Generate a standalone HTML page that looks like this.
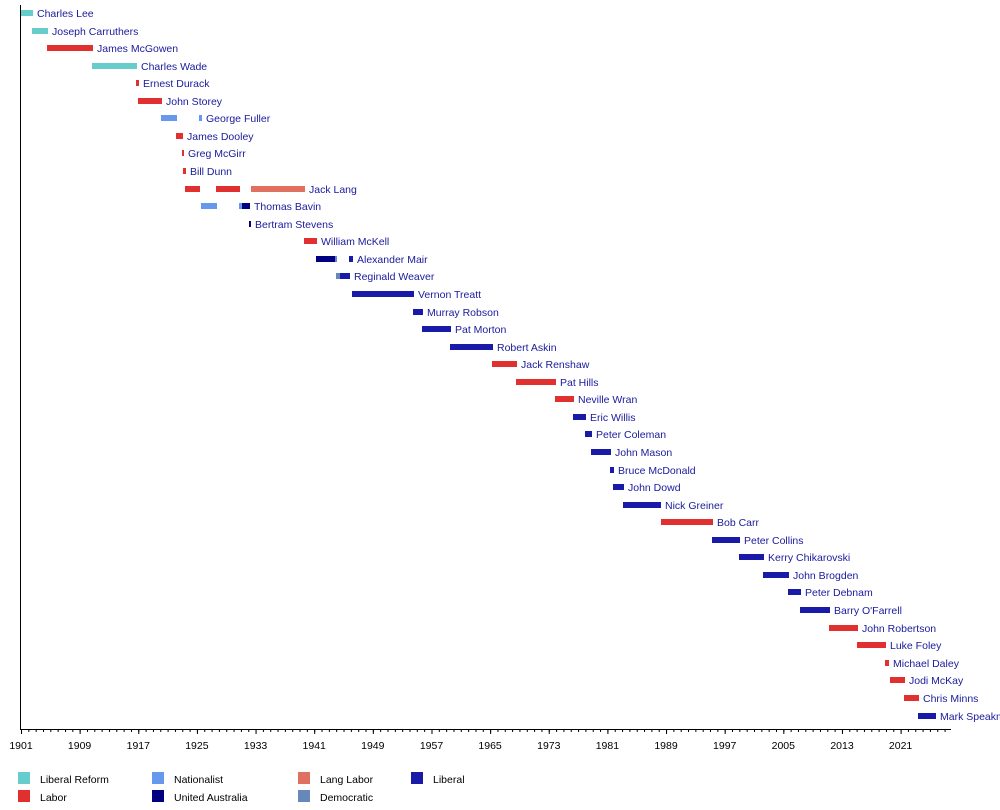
<!DOCTYPE html>
<html><head><meta charset="utf-8"><style>
html,body{margin:0;padding:0;background:#fff;width:1000px;height:810px;overflow:hidden}
svg text{font-family:"Liberation Sans",sans-serif;font-size:10.5px;fill:#1a1a9c}
</style></head><body>
<svg width="1000" height="810" xmlns="http://www.w3.org/2000/svg">
<defs>
<pattern id="minor" x="21" y="0" width="7.33" height="810" patternUnits="userSpaceOnUse"><rect x="0" y="729" width="1" height="3" fill="#000"/></pattern>
<pattern id="major" x="21" y="0" width="58.64" height="810" patternUnits="userSpaceOnUse"><rect x="0" y="729" width="1" height="5" fill="#000"/></pattern>
</defs>
<rect x="21" y="729" width="930" height="4" fill="url(#minor)"/>
<rect x="21" y="729" width="930" height="6" fill="url(#major)"/>
<rect x="20" y="5" width="1" height="725" fill="#000"/>
<rect x="20" y="729" width="931" height="1" fill="#000"/>
<g style="font-size:10px" text-anchor="middle">
<text x="21" y="749" style="fill:#000">1901</text><text x="79.6" y="749" style="fill:#000">1909</text><text x="138.3" y="749" style="fill:#000">1917</text><text x="196.9" y="749" style="fill:#000">1925</text><text x="255.6" y="749" style="fill:#000">1933</text><text x="314.2" y="749" style="fill:#000">1941</text><text x="372.8" y="749" style="fill:#000">1949</text><text x="431.5" y="749" style="fill:#000">1957</text><text x="490.1" y="749" style="fill:#000">1965</text><text x="548.8" y="749" style="fill:#000">1973</text><text x="607.4" y="749" style="fill:#000">1981</text><text x="666" y="749" style="fill:#000">1989</text><text x="724.7" y="749" style="fill:#000">1997</text><text x="783.3" y="749" style="fill:#000">2005</text><text x="842" y="749" style="fill:#000">2013</text><text x="900.6" y="749" style="fill:#000">2021</text>
</g>
<g>
<rect x="21" y="10" width="12" height="6" fill="#66cccc"/><text x="37" y="17">Charles Lee</text>
<rect x="32" y="28" width="16" height="6" fill="#66cccc"/><text x="52" y="35">Joseph Carruthers</text>
<rect x="47" y="45" width="46" height="6" fill="#e03030"/><text x="97" y="52">James McGowen</text>
<rect x="92" y="63" width="45" height="6" fill="#66cccc"/><text x="141" y="70">Charles Wade</text>
<rect x="136" y="80" width="3" height="6" fill="#e03030"/><text x="143" y="87">Ernest Durack</text>
<rect x="138" y="98" width="24" height="6" fill="#e03030"/><text x="166" y="105">John Storey</text>
<rect x="161" y="115" width="16" height="6" fill="#6699ee"/><rect x="199" y="115" width="3" height="6" fill="#6699ee"/><text x="206" y="122">George Fuller</text>
<rect x="176" y="133" width="7" height="6" fill="#e03030"/><text x="187" y="140">James Dooley</text>
<rect x="182" y="150" width="2" height="6" fill="#e03030"/><text x="188" y="157">Greg McGirr</text>
<rect x="183" y="168" width="3" height="6" fill="#e03030"/><text x="190" y="175">Bill Dunn</text>
<rect x="185" y="186" width="15" height="6" fill="#e03030"/><rect x="216" y="186" width="24" height="6" fill="#e03030"/><rect x="251" y="186" width="54" height="6" fill="#e07060"/><text x="309" y="193">Jack Lang</text>
<rect x="201" y="203" width="16" height="6" fill="#6699ee"/><rect x="239" y="203" width="3" height="6" fill="#6699ee"/><rect x="242" y="203" width="8" height="6" fill="#000080"/><text x="254" y="210">Thomas Bavin</text>
<rect x="249" y="221" width="2" height="6" fill="#000080"/><text x="255" y="228">Bertram Stevens</text>
<rect x="304" y="238" width="13" height="6" fill="#e03030"/><text x="321" y="245">William McKell</text>
<rect x="316" y="256" width="19" height="6" fill="#000080"/><rect x="335" y="256" width="2" height="6" fill="#6688bb"/><rect x="349" y="256" width="4" height="6" fill="#1a1aa8"/><text x="357" y="263">Alexander Mair</text>
<rect x="336" y="273" width="4" height="6" fill="#6688bb"/><rect x="340" y="273" width="10" height="6" fill="#1a1aa8"/><text x="354" y="280">Reginald Weaver</text>
<rect x="352" y="291" width="62" height="6" fill="#1a1aa8"/><text x="418" y="298">Vernon Treatt</text>
<rect x="413" y="309" width="10" height="6" fill="#1a1aa8"/><text x="427" y="316">Murray Robson</text>
<rect x="422" y="326" width="29" height="6" fill="#1a1aa8"/><text x="455" y="333">Pat Morton</text>
<rect x="450" y="344" width="43" height="6" fill="#1a1aa8"/><text x="497" y="351">Robert Askin</text>
<rect x="492" y="361" width="25" height="6" fill="#e03030"/><text x="521" y="368">Jack Renshaw</text>
<rect x="516" y="379" width="40" height="6" fill="#e03030"/><text x="560" y="386">Pat Hills</text>
<rect x="555" y="396" width="19" height="6" fill="#e03030"/><text x="578" y="403">Neville Wran</text>
<rect x="573" y="414" width="13" height="6" fill="#1a1aa8"/><text x="590" y="421">Eric Willis</text>
<rect x="585" y="431" width="7" height="6" fill="#1a1aa8"/><text x="596" y="438">Peter Coleman</text>
<rect x="591" y="449" width="20" height="6" fill="#1a1aa8"/><text x="615" y="456">John Mason</text>
<rect x="610" y="467" width="4" height="6" fill="#1a1aa8"/><text x="618" y="474">Bruce McDonald</text>
<rect x="613" y="484" width="11" height="6" fill="#1a1aa8"/><text x="628" y="491">John Dowd</text>
<rect x="623" y="502" width="38" height="6" fill="#1a1aa8"/><text x="665" y="509">Nick Greiner</text>
<rect x="661" y="519" width="52" height="6" fill="#e03030"/><text x="717" y="526">Bob Carr</text>
<rect x="712" y="537" width="28" height="6" fill="#1a1aa8"/><text x="744" y="544">Peter Collins</text>
<rect x="739" y="554" width="25" height="6" fill="#1a1aa8"/><text x="768" y="561">Kerry Chikarovski</text>
<rect x="763" y="572" width="26" height="6" fill="#1a1aa8"/><text x="793" y="579">John Brogden</text>
<rect x="788" y="589" width="13" height="6" fill="#1a1aa8"/><text x="805" y="596">Peter Debnam</text>
<rect x="800" y="607" width="30" height="6" fill="#1a1aa8"/><text x="834" y="614">Barry O'Farrell</text>
<rect x="829" y="625" width="29" height="6" fill="#e03030"/><text x="862" y="632">John Robertson</text>
<rect x="857" y="642" width="29" height="6" fill="#e03030"/><text x="890" y="649">Luke Foley</text>
<rect x="885" y="660" width="4" height="6" fill="#e03030"/><text x="893" y="667">Michael Daley</text>
<rect x="890" y="677" width="15" height="6" fill="#e03030"/><text x="909" y="684">Jodi McKay</text>
<rect x="904" y="695" width="15" height="6" fill="#e03030"/><text x="923" y="702">Chris Minns</text>
<rect x="918" y="713" width="18" height="6" fill="#1a1aa8"/><text x="940" y="720">Mark Speakman</text>
</g>
<g style="font-size:10px">
<rect x="18" y="772" width="12" height="12" fill="#66cccc"/><text x="40" y="783" style="fill:#000">Liberal Reform</text>
<rect x="18" y="790" width="12" height="12" fill="#e03030"/><text x="40" y="801" style="fill:#000">Labor</text>
<rect x="152" y="772" width="12" height="12" fill="#6699ee"/><text x="174" y="783" style="fill:#000">Nationalist</text>
<rect x="152" y="790" width="12" height="12" fill="#000080"/><text x="174" y="801" style="fill:#000">United Australia</text>
<rect x="298" y="772" width="12" height="12" fill="#e07060"/><text x="320" y="783" style="fill:#000">Lang Labor</text>
<rect x="298" y="790" width="12" height="12" fill="#6688bb"/><text x="320" y="801" style="fill:#000">Democratic</text>
<rect x="411" y="772" width="12" height="12" fill="#1a1aa8"/><text x="433" y="783" style="fill:#000">Liberal</text>
</g>
</svg>
</body></html>
